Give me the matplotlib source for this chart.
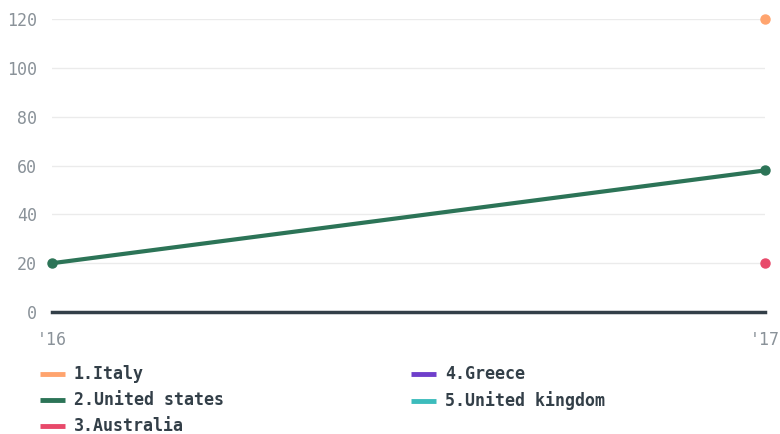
import matplotlib.pyplot as plt
import numpy as np

years = ["'16", "'17"]
series_names = ["1.Italy", "2.United states", "3.Australia", "4.Greece", "5.United kingdom"]
italy = [None, 120]
united_states = [20, 58]
australia = [None, 20]
greece = [None, None]
united_kingdom = [None, None]
colors = ["#ffa46e", "#2c7457", "#e8496a", "#6f3fcb", "#3cbcbc"]

values = [italy, united_states, australia, greece, united_kingdom]

fig = plt.figure(figsize=(7.8, 4.34), dpi=100)
ax = fig.add_axes([0.0667, 0.281, 0.914, 0.675])

x = np.arange(len(years))
handles = []
for name, vals, c in zip(series_names, values, colors):
    y = np.array([np.nan if v is None else v for v in vals], dtype=float)
    ax.plot(x, y, color=c, lw=3, marker="o", ms=6.5, zorder=3, clip_on=False)
    h, = ax.plot([], [], color=c, lw=3.5, solid_capstyle="butt")
    handles.append(h)

ax.set_xlim(0, 1)
ax.set_ylim(0, 120)
ax.set_yticks([0, 20, 40, 60, 80, 100, 120])
ax.set_xticks(x)
ax.set_xticklabels(years)
ax.grid(axis="y", color="#ebebeb", lw=1)
ax.set_axisbelow(True)
ax.axhline(0, color="#333f48", lw=2.5, zorder=2, clip_on=False)
for s in ax.spines.values():
    s.set_visible(False)
ax.tick_params(length=0, labelsize=12, labelcolor="#8a9299")
ax.tick_params(axis="y", pad=11)
ax.tick_params(axis="x", pad=14)
for lab in ax.get_xticklabels() + ax.get_yticklabels():
    lab.set_family("DejaVu Sans Mono")

leg = fig.legend(handles, series_names, ncol=2, loc="upper left",
                 bbox_to_anchor=(0.051, 0.158), frameon=False,
                 prop={"family": "DejaVu Sans Mono", "weight": "bold", "size": 12},
                 handlelength=1.5, handletextpad=0.55, columnspacing=11.2,
                 labelspacing=0.48, borderpad=0, borderaxespad=0)
for t in leg.get_texts():
    t.set_color("#333f48")

fig.savefig("out.png", dpi=100)
